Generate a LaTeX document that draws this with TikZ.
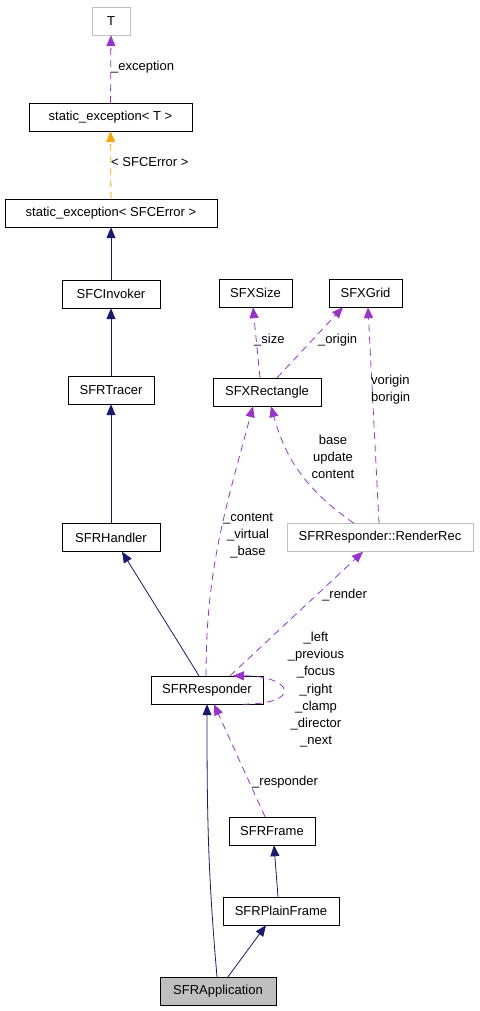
\documentclass[tikz,border=0pt]{standalone}
\usepackage{fontspec}
\setmainfont{Liberation Sans}
\usetikzlibrary{arrows.meta}
\definecolor{navyedge}{HTML}{191970}
\definecolor{orchidedge}{HTML}{9A32CD}
\definecolor{orangeedge}{HTML}{FFA500}
\definecolor{greyline}{HTML}{BFBFBF}
\begin{document}
\begin{tikzpicture}
            [x=1pt,y=1pt,
             cls/.style ={draw,rectangle,minimum height=28pt,inner xsep=0pt,font=\fontsize{13}{17}\selectfont},
             ext/.style ={cls,draw=greyline},
             inh/.style ={navyedge,line width=0.8pt,-{Triangle[length=11pt,width=9pt]}},
             use/.style ={orchidedge,line width=0.8pt,dash pattern=on 7pt off 5pt,-{Triangle[length=11pt,width=9pt]}},
             tpl/.style ={use,orangeedge},
             lbl/.style ={font=\fontsize{13}{17.3}\selectfont,inner sep=0pt,align=center}]
            \useasboundingbox (0,0) rectangle (479,-1011);
            % classes
            \node[ext,minimum width=38pt] (t) at (111,-21) {T};
            \node[cls,minimum width=163pt] (sext) at (110.5,-117) {static\_exception< T >};
            \node[cls,minimum width=212pt] (serr) at (111,-213) {static\_exception< SFCError >};
            \node[cls,minimum width=98pt] (invoker) at (111,-294) {SFCInvoker};
            \node[cls,minimum width=86pt] (tracer) at (111,-390) {SFRTracer};
            \node[cls,minimum width=98pt] (handler) at (111,-537.5) {SFRHandler};
            \node[cls,minimum width=73pt] (size) at (255.5,-293) {SFXSize};
            \node[cls,minimum width=73pt] (grid) at (365.5,-293) {SFXGrid};
            \node[cls,minimum width=108pt] (rect) at (267,-392) {SFXRectangle};
            \node[ext,minimum width=186pt] (renderrec) at (380,-537.5) {SFRResponder::RenderRec};
            \node[cls,minimum width=112pt] (resp) at (207,-690) {SFRResponder};
            \node[cls,minimum width=86pt] (frame) at (272,-831) {SFRFrame};
            \node[cls,minimum width=116pt] (plain) at (281,-911) {SFRPlainFrame};
            \node[cls,minimum width=116pt,fill=greyline] (app) at (218,-991) {SFRApplication};
            % template and member links
            \draw[use] (sext) to (t);
            \draw[tpl] (serr) to (sext);
            \draw[use] ([xshift=-7pt]rect.north) to ([xshift=-2.5pt]size.south);
            \draw[use] ([xshift=10pt]rect.north) to ([xshift=-22.5pt]grid.south);
            \draw[use] ([xshift=-1pt]renderrec.north) to ([xshift=2.5pt]grid.south);
            \draw[use] ([xshift=-26pt]renderrec.north) to [bend left =20] ([xshift=4pt]rect.south);
            \draw[use] ([xshift=-1pt]resp.north) to [out=90,in=-105] ([xshift=-14pt]rect.south);
            \draw[use] ([xshift=23pt]resp.north) to ([xshift=-17pt]renderrec.south);
            \draw[use] ([xshift=36pt]resp.south) .. controls +(60pt,0) and +(60pt,0) .. ([xshift=26pt]resp.north);
            \draw[use] ([xshift=-7pt]frame.north) to ([xshift=7pt]resp.south);
            % inheritance
            \draw[inh] (invoker) to (serr);
            \draw[inh] (tracer) to (invoker);
            \draw[inh] (handler) to (tracer);
            \draw[inh] ([xshift=-8pt]resp.north) to ([xshift=11pt]handler.south);
            \draw[inh] ([xshift=-1pt]app.north) to [out=95,in=-90] (resp.south);
            \draw[inh] ([xshift=-3pt]plain.north) to ([xshift=2pt]frame.south);
            \draw[inh] ([xshift=10pt]app.north) to ([xshift=-15pt]plain.south);
            % labels
            \node[lbl,anchor=base west] (lexc) at (111,-71) {\_exception};
            \node[lbl,anchor=base west] (lerr) at (111,-167) {< SFCError >};
            \node[lbl,anchor=base west] (lsize) at (254,-343) {\_size};
            \node[lbl,anchor=base west] (lorig) at (318,-343) {\_origin};
            \node[lbl,anchor=north west,align=left] (lvb) at (371,-374.5) {vorigin\\borigin};
            \node[lbl,anchor=north] (lbuc) at (333,-434.5) {base\\update\\content};
            \node[lbl,anchor=north] (lcvb) at (248,-512.5) {\_content\\\_virtual\\\_base};
            \node[lbl,anchor=base west] (lrend) at (322,-598) {\_render};
            \node[lbl,anchor=north] (lloop) at (316,-631.5) {\_left\\\_previous\\\_focus\\\_right\\\_clamp\\\_director\\\_next};
            \node[lbl,anchor=base west] (lresp) at (252,-785) {\_responder};
        \end{tikzpicture}
\end{document}
